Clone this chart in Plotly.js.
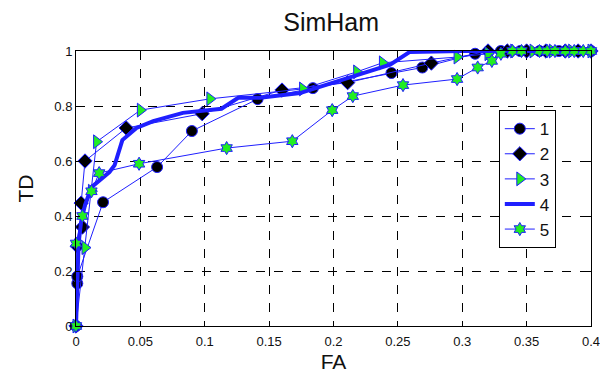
<!DOCTYPE html>
<html>
<head>
<meta charset="utf-8">
<script src="https://cdn.plot.ly/plotly-3.0.1.min.js"></script>
<style>html,body{margin:0;padding:0;background:#fff;}#plot{width:600px;height:373px;}</style>
</head>
<body>
<div id="plot"></div>
<script>
const s1_x = [0, 0.001, 0.001, 0.021, 0.063, 0.09, 0.141, 0.184, 0.245, 0.269, 0.31, 0.33, 0.345, 0.36, 0.375, 0.39, 0.4];
const s1_y = [0, 0.155, 0.18, 0.45, 0.578, 0.709, 0.825, 0.865, 0.92, 0.94, 0.99, 1, 1, 1, 1, 1, 1];

const s2_x = [0, 0.001, 0.005, 0.004, 0.007, 0.039, 0.098, 0.16, 0.211, 0.276, 0.32, 0.335, 0.35, 0.365, 0.38, 0.39, 0.4];
const s2_y = [0, 0.29, 0.36, 0.447, 0.60, 0.72, 0.772, 0.858, 0.885, 0.956, 1, 1, 1, 1, 1, 1, 1];

const s3_x = [0, 0.007, 0.012, 0.016, 0.05, 0.104, 0.176, 0.218, 0.238, 0.296, 0.32, 0.34, 0.355, 0.37, 0.385, 0.4];
const s3_y = [0, 0.285, 0.49, 0.67, 0.785, 0.826, 0.862, 0.924, 0.957, 0.978, 0.99, 1, 1, 1, 1, 1];

const s4_x = [0, 0.001, 0.002, 0.004, 0.007, 0.012, 0.02, 0.026, 0.030, 0.036, 0.047, 0.06, 0.083, 0.113, 0.126, 0.143, 0.174, 0.244, 0.259, 0.3, 0.35, 0.4];
const s4_y = [0, 0.15, 0.3, 0.38, 0.44, 0.505, 0.535, 0.56, 0.585, 0.676, 0.72, 0.745, 0.775, 0.79, 0.83, 0.83, 0.847, 0.95, 0.996, 1, 1, 1];

const s5_x = [0, 0, 0.005, 0.012, 0.018, 0.049, 0.117, 0.168, 0.199, 0.215, 0.254, 0.296, 0.312, 0.323, 0.33, 0.339, 0.346, 0.36, 0.366, 0.372, 0.38, 0.387, 0.394, 0.4];
const s5_y = [0, 0.30, 0.40, 0.49, 0.556, 0.59, 0.647, 0.672, 0.785, 0.836, 0.876, 0.898, 0.94, 0.964, 0.99, 1, 1, 1, 1, 1, 1, 1, 1, 1];

const names = ['1', '2', '3', '4', '5'];
const xTicks = [0, 0.05, 0.1, 0.15, 0.2, 0.25, 0.3, 0.35, 0.4];
const xTickText = ['0', '0.05', '0.1', '0.15', '0.2', '0.25', '0.3', '0.35', '0.4'];
const yTicks = [0, 0.2, 0.4, 0.6, 0.8, 1];
const yTickText = ['0', '0.2', '0.4', '0.6', '0.8', '1'];

const blue = '#1f1fff';
const thin = {color: blue, width: 1};
const FONT = 'Liberation Sans, Arial, sans-serif';

const traces = [
  {x: s1_x, y: s1_y, name: names[0], mode: 'lines+markers', line: thin,
   marker: {symbol: 'circle', size: 11, color: '#000', line: {color: blue, width: 1}}},
  {x: s2_x, y: s2_y, name: names[1], mode: 'lines+markers', line: thin,
   marker: {symbol: 'diamond', size: 11, color: '#000', line: {color: blue, width: 1}}},
  {x: s3_x, y: s3_y, name: names[2], mode: 'lines+markers', line: thin,
   marker: {symbol: 'triangle-right', size: 12, color: '#22ee22', line: {color: blue, width: 1}}},
  {x: s4_x, y: s4_y, name: names[3], mode: 'lines', line: {color: blue, width: 4}},
  {x: s5_x, y: s5_y, name: names[4], mode: 'lines+markers', line: thin,
   marker: {symbol: 'hexagram', size: 10, color: '#22ee22', line: {color: blue, width: 1}}}
].map(t => Object.assign({type: 'scatter', cliponaxis: false}, t));

const axisCommon = {
  showline: true, linecolor: '#000', linewidth: 1, mirror: 'ticks',
  ticks: 'inside', ticklen: 4, tickcolor: '#000',
  showgrid: true, gridcolor: '#000', gridwidth: 1, griddash: 'dash',
  zeroline: false, ticklabeloverflow: 'allow',
  tickfont: {family: FONT, size: 13, color: '#111'}
};

const layout = {
  width: 600, height: 373,
  margin: {l: 76, r: 9, t: 51, b: 47},
  paper_bgcolor: '#fff', plot_bgcolor: '#fff',
  title: {text: 'SimHam', x: 0.552, xanchor: 'center', y: 0.94, yanchor: 'middle',
          font: {family: FONT, size: 25, color: '#111'}},
  xaxis: Object.assign({}, axisCommon, {
    range: [0, 0.4], tickvals: xTicks, ticktext: xTickText, ticklabelstandoff: 3,
    title: {text: 'FA', standoff: 6, font: {family: FONT, size: 21, color: '#111'}}
  }),
  yaxis: Object.assign({}, axisCommon, {
    range: [0, 1], tickvals: yTicks, ticktext: yTickText,
    title: {text: 'TD', standoff: 14, font: {family: FONT, size: 21, color: '#111'}}
  }),
  showlegend: true,
  legend: {x: 0.821, y: 0.785, xanchor: 'left', yanchor: 'top',
           bgcolor: '#fff', bordercolor: '#000', borderwidth: 1,
           font: {family: FONT, size: 17, color: '#111'},
           tracegroupgap: 0}
};

Plotly.newPlot('plot', traces, layout, {displayModeBar: false, staticPlot: true});
</script>
</body>
</html>
